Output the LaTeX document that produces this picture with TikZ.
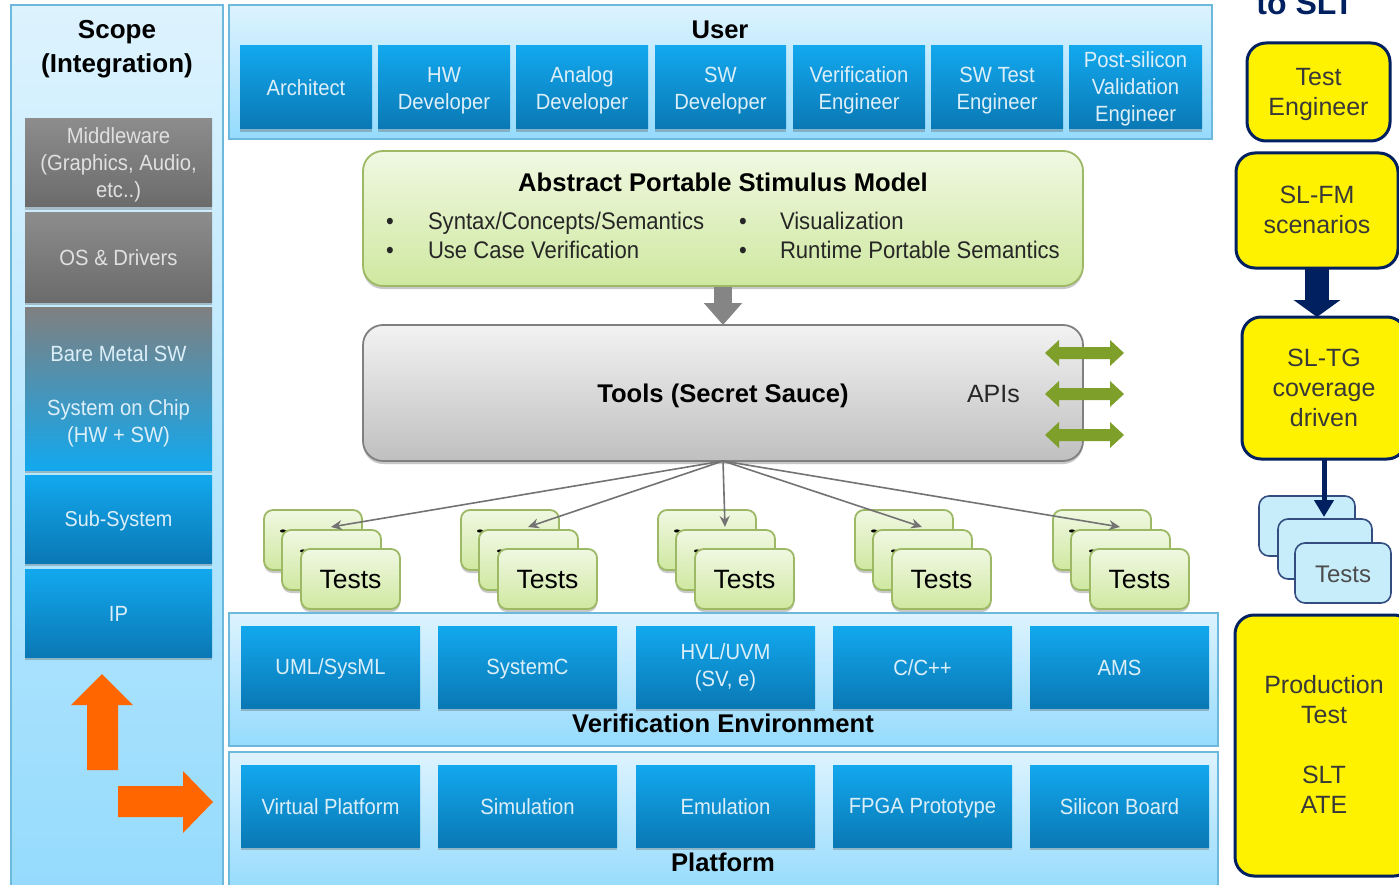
\documentclass[tikz,border=0pt]{standalone}
\usepackage{fontspec}
\setmainfont{Liberation Sans}
\newfontfamily\narf[FakeStretch=0.92]{Liberation Sans}
\usetikzlibrary{shadows,arrows.meta}
\definecolor{navy}{HTML}{002060}
\definecolor{panelT}{HTML}{DDF3FE}
\definecolor{panelB}{HTML}{95DBFD}
\definecolor{panelL}{HTML}{6DB9DE}
\definecolor{blueT}{HTML}{12A8EE}
\definecolor{blueB}{HTML}{0A78B4}
\definecolor{labelW}{HTML}{DCEFF9}
\definecolor{greenL}{HTML}{9DB965}
\definecolor{greenT}{HTML}{F0F8E2}
\definecolor{greenB}{HTML}{CFE8A0}
\definecolor{apiG}{HTML}{7F9F2B}
\definecolor{orangeA}{HTML}{FF6600}
\tikzset{
 x=1pt,y=-1pt,
 softshadow/.style={drop shadow={shadow xshift=0pt,shadow yshift=-3pt,opacity=.3,fill=black!70}},
 basebox/.style={inner sep=0pt,outer sep=0pt,align=center},
 balanced/.style={execute at begin node={\rule{0pt}{#1pt}},execute at end node={\rule[-4pt]{0pt}{4pt}}},
 panel/.style={basebox,draw=panelL,line width=1.8pt,top color=panelT,bottom color=panelB},
 bluebox/.style={basebox,balanced=20,top color=blueT,bottom color=blueB,text=labelW,softshadow,font=\narf\fontsize{22}{27}\selectfont},
 greybox/.style={basebox,balanced=20,top color=black!45,bottom color=black!58,text=black!12,softshadow,font=\narf\fontsize{22}{27}\selectfont},
 mixbox/.style={basebox,balanced=20,top color=black!50,bottom color=blueT,text=labelW,softshadow,font=\narf\fontsize{22}{27}\selectfont},
 greenbox/.style={basebox,draw=greenL,line width=1.8pt,rounded corners=20pt,top color=greenT,bottom color=greenB,softshadow},
 toolbox/.style={basebox,draw=black!50,line width=1.8pt,rounded corners=20pt,top color=black!5,bottom color=black!25,softshadow},
 testbox/.style={basebox,balanced=23,draw=greenL,line width=1.8pt,rounded corners=9pt,top color=greenT,bottom color=greenB,font=\fontsize{26.5}{30}\selectfont,softshadow},
 yellowbox/.style={basebox,balanced=22,draw=navy,line width=3pt,rounded corners=19pt,fill=yellow,text=black!78,font=\fontsize{25}{30}\selectfont},
 ltbox/.style={basebox,balanced=23,draw=navy!80,line width=1.6pt,rounded corners=10pt,fill=cyan!22!white,text=black!70,font=\fontsize{24}{28}\selectfont},
 heading/.style={basebox,font=\bfseries\fontsize{25.6}{34}\selectfont},
 plain/.style={basebox,anchor=base west,text=black!85,font=\narf\fontsize{24}{28}\selectfont},
 thin arrow/.style={draw=black!55,line width=1.6pt,-{Stealth[length=11pt,width=10pt]}},
}
% multi-line label, its ink lowered by #1 points
\newcommand\ml[2]{\raisebox{-#1pt}[\height][\depth]{\begin{tabular}{@{}c@{}}#2\end{tabular}}}
\newcommand\rbox[7]{%
 \pgfmathsetmacro\bw{#4-#2}\pgfmathsetmacro\bh{#5-#3}%
 \node[#6,minimum width=\bw pt,minimum height=\bh pt] (#1) at ({(#2+#4)/2},{(#3+#5)/2}) {#7};}
\newcommand\apiarrow[1]{%
 \fill[apiG] (1045,#1) -- (1059,#1-13) -- (1059,#1-6) -- (1110,#1-6) -- (1110,#1-13) -- (1124,#1) -- (1110,#1+13) -- (1110,#1+6) -- (1059,#1+6) -- (1059,#1+13) -- cycle;}
\begin{document}
\begin{tikzpicture}
\useasboundingbox (0,0) rectangle (1399,885);
\clip (0,0) rectangle (1399,885);
\fill[white] (0,0) rectangle (1399,885);
% Scope column
\rbox{scope}{11}{5}{223}{892}{panel}{}
\node[heading,font=\bfseries\fontsize{26}{34}\selectfont] (scopet) at (117,49) {Scope\\(Integration)};
\rbox{mw}{25}{119}{212}{207}{greybox}{\ml{2}{Middleware\\(Graphics, Audio,\\etc..)}}
\rbox{os}{25}{213}{212}{302}{greybox}{OS \& Drivers}
\rbox{bm}{25}{307}{212}{470}{mixbox}{\ml{8}{Bare Metal SW\\[27pt]System on Chip\\(HW + SW)}}
\rbox{sub}{25}{475}{212}{563}{bluebox,font=\narf\fontsize{21.5}{27}\selectfont}{Sub-System}
\rbox{ip}{25}{569}{212}{657}{bluebox}{IP}
\fill[orangeA] (102,674) -- (133,705) -- (118,705) -- (118,770) -- (87,770) -- (87,705) -- (71,705) -- cycle;
\fill[orangeA] (213,802) -- (183,771) -- (183,786) -- (118,786) -- (118,817) -- (183,817) -- (183,833) -- cycle;
% User panel
\rbox{user}{229}{5}{1212}{139}{panel}{}
\node[heading] (usert) at (720,30) {User};
\rbox{u1}{240}{46}{372}{129}{bluebox}{Architect}
\rbox{u2}{378}{46}{510}{129}{bluebox}{\ml{3}{HW\\Developer}}
\rbox{u3}{516}{46}{648}{129}{bluebox}{\ml{3}{Analog\\Developer}}
\rbox{u4}{655}{46}{786}{129}{bluebox}{\ml{3}{SW\\Developer}}
\rbox{u5}{793}{46}{925}{129}{bluebox}{\ml{3}{Verification\\Engineer}}
\rbox{u6}{931}{46}{1063}{129}{bluebox}{\ml{3}{SW Test\\Engineer}}
\rbox{u7}{1069}{46}{1202}{129}{bluebox}{\ml{2}{Post-silicon\\Validation\\Engineer}}
% Model
\rbox{model}{363}{151}{1083}{286}{greenbox}{}
\node[heading] (modelt) at (723,182) {Abstract Portable Stimulus Model};
\node[plain] (b1) at (386,230) {•};
\node[plain] (b2) at (386,258.5) {•};
\node[plain] (b3) at (739,230) {•};
\node[plain] (b4) at (739,258.5) {•};
\node[plain] (m1) at (428,230) {Syntax/Concepts/Semantics};
\node[plain] (m2) at (428,258.5) {Use Case Verification};
\node[plain] (m3) at (780,230) {Visualization};
\node[plain] (m4) at (780,258.5) {Runtime Portable Semantics};
% Tools
\rbox{tools}{363}{325}{1083}{461}{toolbox}{}
\node[heading] (toolst) at (723,396) {Tools (Secret Sauce)};
\node[basebox,anchor=west,text=black!85,font=\fontsize{25}{30}\selectfont] (apis) at (967,394) {APIs};
\apiarrow{353}\apiarrow{394}\apiarrow{435}
\draw[draw=black!48,line width=18pt,-{Triangle[length=22pt,width=37pt]}] (model.south) ++(0,1) -- (tools.north);
% Test stacks
\foreach \n/\s in {1/264,2/461,3/658,4/855,5/1053}{
 \pgfmathsetmacro\xa{\s+98}\pgfmathsetmacro\xb{\s+18}\pgfmathsetmacro\xc{\s+117}\pgfmathsetmacro\xd{\s+37}\pgfmathsetmacro\xe{\s+136}
 \rbox{ta\n}{\s}{510}{\xa}{570}{testbox}{}
 \fill (\s+19,531) ellipse (3pt and 1.6pt);
 \rbox{tb\n}{\xb}{530}{\xc}{590}{testbox}{}
 \fill (\s+39,551) ellipse (3pt and 1.6pt);
 \rbox{tc\n}{\xd}{549}{\xe}{609}{testbox}{Tests}
 \coordinate (tt\n) at (\s+67,527);
}
\foreach \n in {1,...,5}{\draw[thin arrow] (tools.south) -- (tt\n);}
% Verification Environment
\rbox{ve}{229}{613}{1218}{746}{panel}{}
\node[heading] (vet) at (723,723) {Verification Environment};
\rbox{v1}{241}{626}{420}{708}{bluebox}{UML/SysML}
\rbox{v2}{438}{626}{617}{708}{bluebox}{SystemC}
\rbox{v3}{636}{626}{815}{708}{bluebox}{\ml{1}{HVL/UVM\\(SV, e)}}
\rbox{v4}{833}{626}{1012}{708}{bluebox}{C/C++}
\rbox{v5}{1030}{626}{1209}{708}{bluebox}{AMS}
% Platform
\rbox{pf}{229}{752}{1218}{892}{panel}{}
\node[heading] (pft) at (723,862) {Platform};
\rbox{p1}{241}{765}{420}{847}{bluebox}{Virtual Platform}
\rbox{p2}{438}{765}{617}{847}{bluebox}{Simulation}
\rbox{p3}{636}{765}{815}{847}{bluebox}{Emulation}
\rbox{p4}{833}{765}{1012}{847}{bluebox}{FPGA Prototype}
\rbox{p5}{1030}{765}{1209}{847}{bluebox}{Silicon Board}
% Right column
\node[heading,text=navy,font=\bfseries\fontsize{32}{36}\selectfont] (slt) at (1305,3) {to SLT};
\rbox{te}{1247}{43}{1390}{141}{yellowbox}{\ml{3}{Test\\Engineer}}
\rbox{slfm}{1236}{153}{1398}{268}{yellowbox}{\ml{2}{SL-FM\\scenarios}}
\rbox{sltg}{1242}{317}{1406}{459}{yellowbox}{\ml{2}{SL-TG\\coverage\\driven}}
\rbox{prod}{1235}{615}{1413}{876}{yellowbox}{\ml{2}{Production\\Test\\[30pt]SLT\\ATE}}
\rbox{la}{1259}{496}{1355}{556}{ltbox}{}
\rbox{lb}{1278}{519}{1372}{579}{ltbox}{}
\rbox{lc}{1295}{543}{1391}{603}{ltbox}{Tests}
\coordinate (nx) at (1317,0);
\coordinate (lt) at (1324,517);
\draw[draw=navy,line width=24pt,-{Triangle[length=17pt,width=46pt]}] (slfm.south -| nx) -- (sltg.north -| nx);
\draw[draw=navy,line width=5pt,-{Triangle[length=17pt,width=19pt]}] (sltg.south -| lt) -- (lt);
\end{tikzpicture}
\end{document}
